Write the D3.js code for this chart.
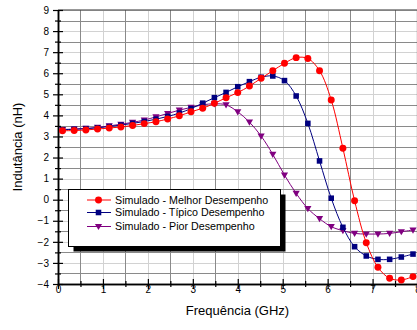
<!DOCTYPE html>
<html>
<head>
<meta charset="utf-8">
<script src="https://cdn.jsdelivr.net/npm/d3@7"></script>
<style>
  html, body { margin: 0; padding: 0; background: #fff; }
  svg { display: block; font-family: "Liberation Sans", Arial, sans-serif; }
</style>
</head>
<body>
<svg id="chart" width="417" height="330"></svg>
<script>
// Frequency sweep (GHz)
const freq = [0.10, 0.36, 0.62, 0.88, 1.14, 1.40, 1.66, 1.92, 2.18, 2.44,
              2.70, 2.96, 3.22, 3.48, 3.74, 4.00, 4.26, 4.52, 4.78, 5.04,
              5.30, 5.56, 5.82, 6.08, 6.34, 6.60, 6.86, 7.12, 7.38, 7.64, 7.90];

// Inductance (nH) for each simulated case
const melhor = [3.27, 3.28, 3.31, 3.35, 3.40, 3.45, 3.52, 3.61, 3.70, 3.83,
                3.98, 4.17, 4.34, 4.57, 4.84, 5.08, 5.39, 5.76, 6.12, 6.47,
                6.74, 6.70, 6.12, 4.73, 2.44, -0.05, -2.04, -3.21, -3.73, -3.81, -3.65];
const tipico = [3.32, 3.34, 3.37, 3.41, 3.47, 3.54, 3.62, 3.71, 3.82, 3.95,
                4.11, 4.32, 4.58, 4.84, 5.09, 5.36, 5.60, 5.81, 5.87, 5.65,
                4.92, 3.62, 1.84, 0.07, -1.31, -2.23, -2.67, -2.83, -2.83, -2.72, -2.58];
const pior   = [3.33, 3.35, 3.38, 3.43, 3.50, 3.58, 3.67, 3.78, 3.93, 4.09,
                4.25, 4.38, 4.50, 4.55, 4.50, 4.17, 3.68, 3.02, 2.15, 1.17,
                0.30, -0.42, -0.90, -1.28, -1.47, -1.60, -1.63, -1.63, -1.60, -1.52, -1.44];

const seriesNames = ["Simulado - Melhor Desempenho",
                     "Simulado - Típico Desempenho",
                     "Simulado - Pior Desempenho"];

const xTicks = [0, 1, 2, 3, 4, 5, 6, 7, 8];
const xMinor = [0.5, 1.5, 2.5, 3.5, 4.5, 5.5, 6.5, 7.5];
const yTicks = [-4, -3, -2, -1, 0, 1, 2, 3, 4, 5, 6, 7, 8, 9];
const yMinor = [-3.5, -2.5, -1.5, -0.5, 0.5, 1.5, 2.5, 3.5, 4.5, 5.5, 6.5, 7.5, 8.5];

const xTitle = "Frequência (GHz)";
const yTitle = "Indutância (nH)";

const svg = d3.select("#chart");

const x = d3.scaleLinear().domain([0, 8]).range([58, 417.5]);
const y = d3.scaleLinear().domain([-4, 9]).range([284, 10]);

const X0 = x.range()[0], X1 = x.range()[1];
const Y0 = y.range()[0], Y1 = y.range()[1];

// Grid: light lines on whole units, darker lines on half units
const grid = svg.append("g").attr("shape-rendering", "crispEdges");
grid.selectAll(".gxl").data(xTicks).join("line")
  .attr("x1", d => Math.round(x(d)) + 0.5).attr("x2", d => Math.round(x(d)) + 0.5)
  .attr("y1", Y1).attr("y2", Y0).attr("stroke", "#d2d2d2");
grid.selectAll(".gyl").data(yTicks).join("line")
  .attr("y1", d => Math.round(y(d)) + 0.5).attr("y2", d => Math.round(y(d)) + 0.5)
  .attr("x1", X0).attr("x2", X1).attr("stroke", "#d2d2d2");
grid.selectAll(".gxd").data(xMinor).join("line")
  .attr("x1", d => Math.round(x(d)) + 0.5).attr("x2", d => Math.round(x(d)) + 0.5)
  .attr("y1", Y1).attr("y2", Y0).attr("stroke", "#8a8a8a");
grid.selectAll(".gyd").data(yMinor).join("line")
  .attr("y1", d => Math.round(y(d)) + 0.5).attr("y2", d => Math.round(y(d)) + 0.5)
  .attr("x1", X0).attr("x2", X1).attr("stroke", "#8a8a8a");

// Frame top and right
svg.append("line").attr("x1", X0).attr("x2", X1).attr("y1", Y1).attr("y2", Y1)
  .attr("stroke", "#333").attr("stroke-width", 1.2);
svg.append("line").attr("x1", X1).attr("x2", X1).attr("y1", Y1).attr("y2", Y0)
  .attr("stroke", "#333").attr("stroke-width", 1.2);

// Axes
function styleAxis(g, major, minorLen, horizontal) {
  g.select(".domain").attr("stroke", "#000").attr("stroke-width", 1.5);
  g.selectAll(".tick line").attr("stroke", "#000").attr("stroke-width", 1.2);
  if (horizontal) g.selectAll(".tick line").attr("y1", -minorLen).attr("y2", minorLen);
  else g.selectAll(".tick line").attr("x1", -minorLen).attr("x2", minorLen);
}

const yMinorAxis = svg.append("g").attr("transform", `translate(${X0},0)`)
  .call(d3.axisLeft(y).tickValues(yMinor).tickFormat("").tickSizeOuter(0));
styleAxis(yMinorAxis, false, 3, false);

const yAxis = svg.append("g").attr("transform", `translate(${X0},0)`)
  .call(d3.axisLeft(y).tickValues(yTicks).tickSize(5).tickPadding(4).tickSizeOuter(0));
styleAxis(yAxis, true, 5, false);
yAxis.selectAll("text").attr("font-size", 10).attr("fill", "#000")
  .attr("font-family", "Liberation Sans, Arial, sans-serif");

const xMinorAxis = svg.append("g").attr("transform", `translate(0,${Y0})`)
  .call(d3.axisBottom(x).tickValues(xMinor).tickFormat("").tickSizeOuter(0));
styleAxis(xMinorAxis, false, 3, true);

const xAxis = svg.append("g").attr("transform", `translate(0,${Y0})`)
  .call(d3.axisBottom(x).tickValues(xTicks).tickSize(5).tickSizeOuter(0));
styleAxis(xAxis, true, 5, true);
xAxis.selectAll("text").attr("font-size", 10).attr("fill", "#000")
  .attr("font-family", "Liberation Sans, Arial, sans-serif")
  .attr("y", 9).attr("dy", "0");

// Axis titles
svg.append("text").attr("x", (X0 + 417) / 2).attr("y", 315)
  .attr("text-anchor", "middle").attr("font-size", 13).text(xTitle);
svg.append("text").attr("transform", `translate(21.5,${(Y0 + Y1) / 2}) rotate(-90)`)
  .attr("text-anchor", "middle").attr("font-size", 13).text(yTitle);

// Series
const series = [
  { name: seriesNames[2], values: pior,   color: "#800080", symbol: "tri" },
  { name: seriesNames[1], values: tipico, color: "#000080", symbol: "sq" },
  { name: seriesNames[0], values: melhor, color: "#ff0000", symbol: "circ" }
];

const line = d3.line()
  .x((d, i) => x(freq[i]))
  .y(d => y(d))
  .curve(d3.curveCatmullRom.alpha(0.5));

function markerPath(kind) {
  if (kind === "circ") return d3.symbol(d3.symbolCircle, 38)();
  if (kind === "sq") return d3.symbol(d3.symbolSquare, 31)();
  // downward triangle
  const p = d3.path();
  p.moveTo(-3.6, -2.6); p.lineTo(3.6, -2.6); p.lineTo(0, 3.6); p.closePath();
  return p.toString();
}

series.forEach(s => {
  svg.append("path").datum(s.values)
    .attr("d", line).attr("fill", "none")
    .attr("stroke", s.color).attr("stroke-width", 1);
  svg.append("g").selectAll("path").data(s.values).join("path")
    .attr("transform", (d, i) => `translate(${x(freq[i])},${y(d)})`)
    .attr("d", markerPath(s.symbol))
    .attr("fill", s.color);
});

// Legend
const lg = svg.append("g");
const lx = 68.5, ly = 189.5, lw = 212, lh = 57;
lg.append("rect").attr("x", lx + 5).attr("y", ly + 5).attr("width", lw).attr("height", lh).attr("fill", "#000");
lg.append("rect").attr("x", lx).attr("y", ly).attr("width", lw).attr("height", lh)
  .attr("fill", "#fff").attr("stroke", "#000").attr("stroke-width", 1);

const legendItems = [
  { name: seriesNames[0], color: "#ff0000", symbol: "circ", cy: 200 },
  { name: seriesNames[1], color: "#000080", symbol: "sq", cy: 212.5 },
  { name: seriesNames[2], color: "#800080", symbol: "tri", cy: 226.5 }
];
legendItems.forEach(it => {
  lg.append("line").attr("x1", 87).attr("x2", 111).attr("y1", it.cy).attr("y2", it.cy)
    .attr("stroke", it.color).attr("stroke-width", 1);
  lg.append("path").attr("transform", `translate(98.5,${it.cy})`)
    .attr("d", markerPath(it.symbol)).attr("fill", it.color);
  lg.append("text").attr("x", 115).attr("y", it.cy).attr("dy", "0.36em")
    .attr("font-size", 10.7).attr("fill", "#000").text(it.name);
});
</script>
</body>
</html>
